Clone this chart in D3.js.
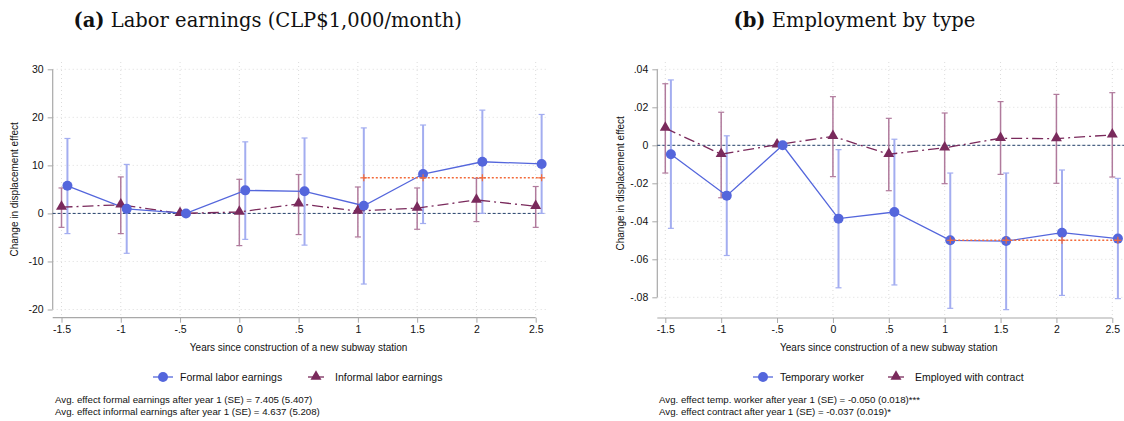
<!DOCTYPE html>
<html><head><meta charset="utf-8">
<script src="https://cdn.jsdelivr.net/npm/d3@7"></script>
<style>body{margin:0;background:#fff}svg{display:block}</style>
</head><body>
<svg id="c" width="1124" height="421"></svg>
<script>
// ---------- DATA ----------
const years = [-1.5, -1, -0.5, 0, 0.5, 1, 1.5, 2, 2.5];
const xTickLabels = ["-1.5", "-1", "-.5", "0", ".5", "1", "1.5", "2", "2.5"];

// Panel (a) labor earnings
const formalEst = [5.75, 0.95, 0, 4.8, 4.6, 1.6, 8.2, 10.75, 10.3];
const formalLo  = [-4.2, -8.3, null, -5.4, -6.6, -14.7, -2.1, 0.0, 0.0];
const formalHi  = [15.6, 10.2, null, 14.9, 15.7, 17.8, 18.4, 21.5, 20.6];
const informalEst = [1.3, 1.8, 0, 0.3, 2.0, 0.5, 1.1, 2.8, 1.5];
const informalLo  = [-2.9, -4.2, null, -6.7, -4.4, -4.9, -3.3, -1.7, -2.9];
const informalHi  = [5.3, 7.6, null, 7.1, 8.1, 5.5, 5.3, 7.3, 5.6];
const avgFormal = 7.405;
const yTicksA = [-20, -10, 0, 10, 20, 30];
const yTickLabelsA = ["-20", "-10", "0", "10", "20", "30"];

// Panel (b) employment by type
const tempEst = [-0.0047, -0.0265, 0, -0.0386, -0.0351, -0.0500, -0.0504, -0.0460, -0.0491];
const tempLo  = [-0.0437, -0.058, null, -0.075, -0.0735, -0.0858, -0.0865, -0.079, -0.0807];
const tempHi  = [0.0344, 0.005, null, -0.0023, 0.0032, -0.0146, -0.0146, -0.013, -0.0174];
const contractEst = [0.0090, -0.0047, 0.0003, 0.0047, -0.0047, -0.0013, 0.0037, 0.0035, 0.0055];
const contractLo  = [-0.0146, -0.0276, null, -0.0165, -0.0239, -0.0202, -0.0153, -0.020, -0.0167];
const contractHi  = [0.0324, 0.0174, null, 0.0256, 0.0142, 0.017, 0.023, 0.0268, 0.0277];
const avgTemp = -0.050;
const yTicksB = [-0.08, -0.06, -0.04, -0.02, 0, 0.02, 0.04];
const yTickLabelsB = ["-.08", "-.06", "-.04", "-.02", "0", ".02", ".04"];

const avgYears = [1, 1.5, 2, 2.5];

// ---------- STYLE ----------
const BLUE = "#5466dc", BLUE_CI = "#a3adf0";
const MAROON = "#7a2a5c", MAROON_CI = "#b07a9c";
const ORANGE = "#f36a3a", ZERO = "#24406b";
const FONT = "'Liberation Sans', Arial, Helvetica, sans-serif";

const svg = d3.select("#c");

const panels = [
  {
    title: "Labor earnings (CLP$1,000/month)", tag: "(a)", titleX: 73.5,
    xr: [61.5, 535.7], yDom: [-20, 30], yr: [309.5, 69.3],
    axisX: 52.7, plotRight: 548, plotTop: 62, axisY: 317.7,
    yTicks: yTicksA, yLabels: yTickLabelsA,
    est1: formalEst, lo1: formalLo, hi1: formalHi,
    est2: informalEst, lo2: informalLo, hi2: informalHi,
    avg: avgFormal,
    leg1: "Formal labor earnings", leg2: "Informal labor earnings",
    legX: 153, leg2X: 308,
    notes: ["Avg. effect formal earnings after year 1 (SE) = 7.405 (5.407)",
            "Avg. effect informal earnings after year 1 (SE) = 4.637 (5.208)"],
    noteX: 55, ytitleX: 14
  },
  {
    title: "Employment by type", tag: "(b)", titleX: 733.5,
    xr: [665.3, 1112.3], yDom: [-0.08, 0.04], yr: [297.3, 69.3],
    axisX: 657.3, plotRight: 1124, plotTop: 62, axisY: 318,
    yTicks: yTicksB, yLabels: yTickLabelsB,
    est1: tempEst, lo1: tempLo, hi1: tempHi,
    est2: contractEst, lo2: contractLo, hi2: contractHi,
    avg: avgTemp,
    leg1: "Temporary worker", leg2: "Employed with contract",
    legX: 753, leg2X: 888,
    notes: ["Avg. effect temp. worker after year 1 (SE) = -0.050 (0.018)***",
            "Avg. effect contract after year 1 (SE) = -0.037 (0.019)*"],
    noteX: 659, ytitleX: 620
  }
];

panels.forEach(p => {
  const x = d3.scaleLinear().domain([-1.5, 2.5]).range(p.xr);
  const y = d3.scaleLinear().domain(p.yDom).range(p.yr);
  const off = 0.05;
  const g = svg.append("g");

  // title
  const t = g.append("text").attr("x", p.titleX).attr("y", 27)
    .attr("font-family", "'DejaVu Serif','Liberation Serif',serif").attr("font-size", 19.5).attr("fill", "#111");
  t.append("tspan").attr("font-weight", "bold").text(p.tag);
  t.append("tspan").attr("font-weight", "normal").text(" " + p.title);

  // grid
  g.append("g").selectAll("line").data(p.yTicks).join("line")
    .attr("x1", p.axisX).attr("x2", p.plotRight).attr("y1", d => y(d)).attr("y2", d => y(d))
    .attr("stroke", "#dcdcdc").attr("stroke-width", 1).attr("stroke-dasharray", "1,3");
  g.append("g").selectAll("line").data(years).join("line")
    .attr("x1", d => x(d)).attr("x2", d => x(d)).attr("y1", p.plotTop).attr("y2", p.axisY)
    .attr("stroke", "#dcdcdc").attr("stroke-width", 1).attr("stroke-dasharray", "1,3");

  // axes
  const yAxis = d3.axisLeft(y).tickValues(p.yTicks).tickFormat((d, i) => p.yLabels[i]).tickSize(5).tickPadding(4);
  const ya = g.append("g").attr("transform", `translate(${p.axisX},0)`).call(yAxis);
  const xAxis = d3.axisBottom(x).tickValues(years).tickFormat((d, i) => xTickLabels[i]).tickSize(5).tickPadding(3);
  const xa = g.append("g").attr("transform", `translate(0,${p.axisY})`).call(xAxis);
  [ya, xa].forEach(a => {
    a.select(".domain").remove();
    a.selectAll(".tick line").attr("stroke", "#a8a8a8");
    a.selectAll("text").attr("font-family", FONT).attr("font-size", 10.5).attr("fill", "#111");
  });
  g.append("line").attr("x1", p.axisX).attr("x2", p.axisX)
    .attr("y1", y(p.yDom[1])).attr("y2", y(p.yDom[0])).attr("stroke", "#a8a8a8").attr("stroke-width", 1.2);
  g.append("line").attr("x1", p.axisX).attr("x2", x(2.5))
    .attr("y1", p.axisY).attr("y2", p.axisY).attr("stroke", "#a8a8a8").attr("stroke-width", 1.2);

  // axis titles
  g.append("text").attr("transform", `translate(${p.ytitleX},${(y(p.yDom[0]) + y(p.yDom[1])) / 2}) rotate(-90)`)
    .attr("text-anchor", "middle").attr("dominant-baseline", "central")
    .attr("font-family", FONT).attr("font-size", 10).attr("fill", "#111").text("Change in displacement effect");
  g.append("text").attr("x", (x(-1.5) + x(2.5)) / 2).attr("y", 351).attr("text-anchor", "middle")
    .attr("font-family", FONT).attr("font-size", 10).attr("fill", "#111")
    .text("Years since construction of a new subway station");

  // zero line
  g.append("line").attr("x1", p.axisX).attr("x2", p.plotRight === 1124 ? 1124 : p.plotRight - 6)
    .attr("y1", y(0)).attr("y2", y(0)).attr("stroke", ZERO).attr("stroke-width", 1).attr("stroke-dasharray", "3,2");

  const idx = d3.range(years.length);
  function ci(est, lo, hi, dx, col, w) {
    const data = idx.filter(i => lo[i] !== null);
    const cg = g.append("g").attr("stroke", col);
    cg.selectAll("line.v").data(data).join("line").attr("class", "v")
      .attr("x1", i => x(years[i] + dx)).attr("x2", i => x(years[i] + dx))
      .attr("y1", i => y(lo[i])).attr("y2", i => y(hi[i])).attr("stroke-width", w);
    ["lo", "hi"].forEach(k => {
      const arr = k === "lo" ? lo : hi;
      cg.selectAll("line." + k).data(data).join("line").attr("class", k)
        .attr("x1", i => x(years[i] + dx) - 3).attr("x2", i => x(years[i] + dx) + 3)
        .attr("y1", i => y(arr[i])).attr("y2", i => y(arr[i])).attr("stroke-width", 1.2);
    });
  }
  ci(p.est2, p.lo2, p.hi2, 0, MAROON_CI, 1.5);
  ci(p.est1, p.lo1, p.hi1, off, BLUE_CI, 2);

  // lines
  const line2 = d3.line().x(i => x(years[i])).y(i => y(p.est2[i]));
  g.append("path").attr("d", line2(idx)).attr("fill", "none").attr("stroke", MAROON)
    .attr("stroke-width", 1.3).attr("stroke-dasharray", "11,4,2,4");
  const line1 = d3.line().x(i => x(years[i] + off)).y(i => y(p.est1[i]));
  g.append("path").attr("d", line1(idx)).attr("fill", "none").attr("stroke", BLUE).attr("stroke-width", 1.3);

  // markers
  const tri = d3.symbol().type(d3.symbolTriangle).size(52);
  g.append("g").selectAll("path").data(idx).join("path")
    .attr("d", tri).attr("transform", i => `translate(${x(years[i])},${y(p.est2[i]) - 0.5})`).attr("fill", MAROON);
  g.append("g").selectAll("circle").data(idx).join("circle")
    .attr("cx", i => x(years[i] + off)).attr("cy", i => y(p.est1[i])).attr("r", 5).attr("fill", BLUE);

  // average effect line
  g.append("line").attr("x1", x(avgYears[0] + off)).attr("x2", x(avgYears[avgYears.length - 1] + off))
    .attr("y1", y(p.avg)).attr("y2", y(p.avg)).attr("stroke", ORANGE).attr("stroke-width", 1.5).attr("stroke-dasharray", "2,2");
  g.append("g").selectAll("g").data(avgYears).join("g")
    .attr("transform", d => `translate(${x(d + off)},${y(p.avg)})`)
    .each(function () {
      const s = d3.select(this);
      s.append("line").attr("x1", -3.5).attr("x2", 3.5).attr("stroke", ORANGE).attr("stroke-width", 1.2);
      s.append("line").attr("y1", -3.5).attr("y2", 3.5).attr("stroke", ORANGE).attr("stroke-width", 1.2);
    });

  // legend
  const ly = 377;
  const lg = g.append("g");
  lg.append("line").attr("x1", p.legX).attr("x2", p.legX + 20).attr("y1", ly).attr("y2", ly).attr("stroke", BLUE).attr("stroke-width", 1.3);
  lg.append("circle").attr("cx", p.legX + 10).attr("cy", ly).attr("r", 5).attr("fill", BLUE);
  lg.append("text").attr("x", p.legX + 27).attr("y", ly).attr("dominant-baseline", "central")
    .attr("font-family", FONT).attr("font-size", 10.5).attr("fill", "#111").text(p.leg1);
  lg.append("line").attr("x1", p.leg2X).attr("x2", p.leg2X + 16).attr("y1", ly).attr("y2", ly).attr("stroke", MAROON).attr("stroke-width", 1.3);
  lg.append("path").attr("d", tri).attr("transform", `translate(${p.leg2X + 8},${ly - 0.5})`).attr("fill", MAROON);
  lg.append("text").attr("x", p.leg2X + 27).attr("y", ly).attr("dominant-baseline", "central")
    .attr("font-family", FONT).attr("font-size", 10.5).attr("fill", "#111").text(p.leg2);

  // notes
  p.notes.forEach((n, i) => {
    g.append("text").attr("x", p.noteX).attr("y", 403 + i * 11.5)
      .attr("font-family", FONT).attr("font-size", 9.7).attr("fill", "#111").text(n);
  });
});
</script>
</body></html>
